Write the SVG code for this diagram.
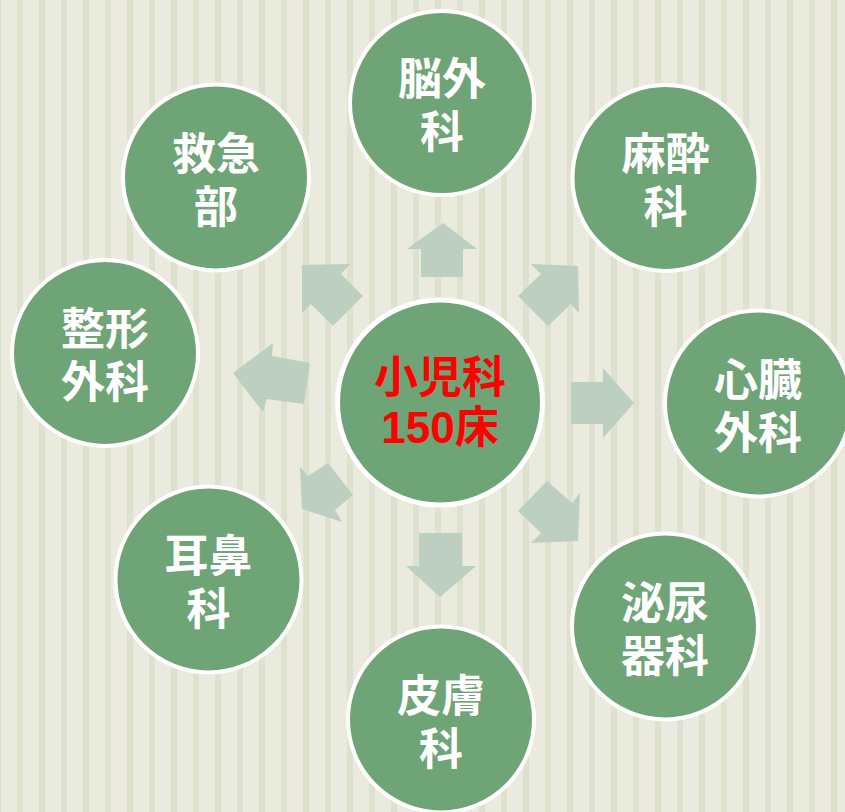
<svg xmlns="http://www.w3.org/2000/svg" width="845" height="812" viewBox="0 0 845 812">
<defs>
<pattern id="stripes" patternUnits="userSpaceOnUse" x="17" y="0" width="22" height="812">
<rect x="0" y="0" width="22" height="812" fill="#EAEBDE"/>
<rect x="0" y="0" width="6" height="812" fill="#DEE1CE"/>
</pattern>
<style>
.node circle{fill:#6FA477;stroke:#FFFFFF;stroke-width:4}
.node text{fill:#FFFFFF;font-family:"Noto Sans CJK JP","Noto Sans CJK SC",sans-serif;font-size:44px;font-weight:bold;text-anchor:middle;dominant-baseline:central}
#center text{fill:#FF0000;font-family:"Liberation Sans","Noto Sans CJK JP",sans-serif}
.arrow{fill:#BCCFC1}
</style>
</defs>
<rect x="0" y="0" width="845" height="812" fill="url(#stripes)"/>
<g id="connectors">
<polygon class="arrow" points="443,223 477,249 463,249 463,277 421,277 421,249 407,249"/>
<polygon class="arrow" points="440,597 476,566 462,566 462,533 419,533 419,566 406,566"/>
<polygon class="arrow" points="634,403 603,368 603,382 571,382 571,424 603,424 603,438"/>
<polygon class="arrow" points="233,373 273,343 272,356 310,363 304,404 267,399 263,412"/>
<polygon class="arrow" points="302,265 350,264 341,274 363,296 333,326 311,304 302,313"/>
<polygon class="arrow" points="578,266 531,264 541,274 518,296 548,326 571,304 579,313"/>
<polygon class="arrow" points="547,481 572,503 580,493 578,541 531,543 541,533 518,511"/>
<polygon class="arrow" points="328,463 353,495 335,510 342,522 302,509 300,467 308,476"/>
</g>
<g id="center" class="node">
<circle cx="440" cy="402.5" r="102.5" style="stroke-width:5"/>
<text><tspan x="440" y="376.5">小児科</tspan><tspan x="440" y="426.5">150床</tspan></text>
</g>
<g id="n-nougeka" class="node">
<circle cx="442" cy="103" r="92"/>
<text><tspan x="442" y="76">脳外</tspan><tspan x="442" y="129">科</tspan></text>
</g>
<g id="n-kyukyu" class="node">
<circle cx="216" cy="177.5" r="93"/>
<text><tspan x="216" y="150.5">救急</tspan><tspan x="216" y="203.5">部</tspan></text>
</g>
<g id="n-masui" class="node">
<circle cx="665.5" cy="178" r="93"/>
<text><tspan x="665.5" y="151">麻酔</tspan><tspan x="665.5" y="204">科</tspan></text>
</g>
<g id="n-seikei" class="node">
<circle cx="105" cy="353" r="93"/>
<text><tspan x="105" y="326">整形</tspan><tspan x="105" y="379">外科</tspan></text>
</g>
<g id="n-shinzou" class="node">
<circle cx="758" cy="403.5" r="93"/>
<text><tspan x="758" y="376.5">心臓</tspan><tspan x="758" y="429.5">外科</tspan></text>
</g>
<g id="n-jibi" class="node">
<circle cx="208.5" cy="579.5" r="93"/>
<text><tspan x="208.5" y="552.5">耳鼻</tspan><tspan x="208.5" y="605.5">科</tspan></text>
</g>
<g id="n-hinyouki" class="node">
<circle cx="665" cy="626.5" r="93"/>
<text><tspan x="665" y="599.5">泌尿</tspan><tspan x="665" y="652.5">器科</tspan></text>
</g>
<g id="n-hifu" class="node">
<circle cx="441" cy="719.5" r="93"/>
<text><tspan x="441" y="692.5">皮膚</tspan><tspan x="441" y="745.5">科</tspan></text>
</g>
</svg>
